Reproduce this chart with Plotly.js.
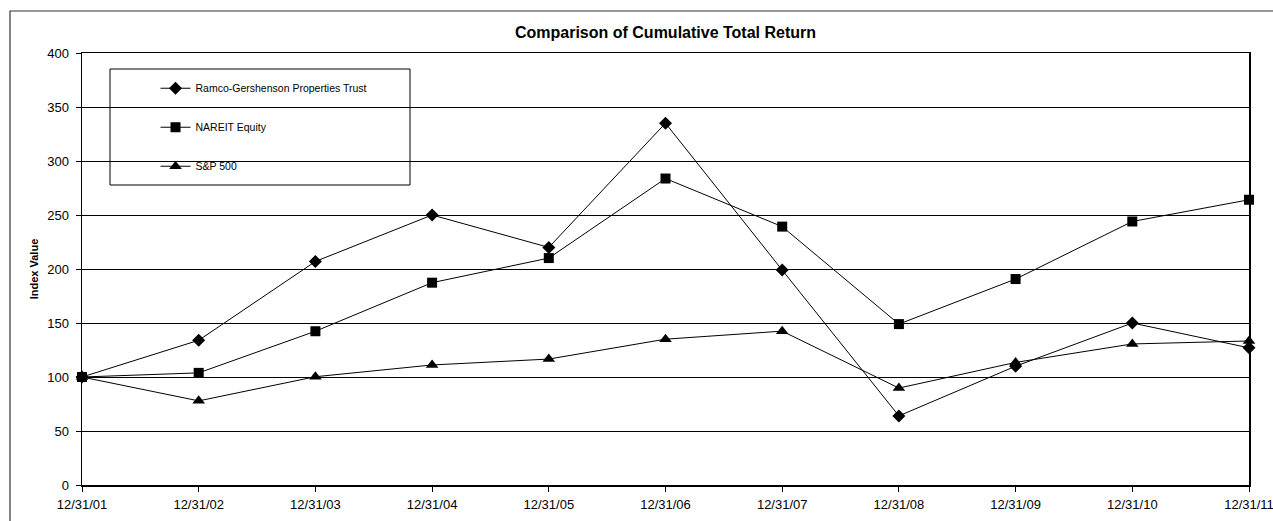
<!DOCTYPE html>
<html>
<head>
<meta charset="utf-8">
<script src="https://cdn.plot.ly/plotly-3.0.1.min.js"></script>
<style>
  html, body { margin: 0; padding: 0; background: #fff; }
  #chart { width: 1273px; height: 521px; }
</style>
</head>
<body>
<div id="chart"></div>
<script>
const categories = ["12/31/01", "12/31/02", "12/31/03", "12/31/04", "12/31/05", "12/31/06",
                    "12/31/07", "12/31/08", "12/31/09", "12/31/10", "12/31/11"];
const ramcoValues  = [100, 134, 207, 250, 220, 335, 199, 64, 110, 150, 127];
const nareitValues = [100, 103.82, 142.37, 187.33, 210.12, 283.78, 239.25, 148.99, 190.69, 243.99, 264.12];
const sp500Values  = [100, 77.90, 100.25, 111.15, 116.61, 135.03, 142.45, 89.75, 113.50, 130.60, 133.35];
const seriesNames  = ["Ramco-Gershenson Properties Trust", "NAREIT Equity", "S&P 500"];
const yTicks = [0, 50, 100, 150, 200, 250, 300, 350, 400];

const FONT = "Liberation Sans, Arial, sans-serif";

function mk(name, y, symbol, size, group) {
  return {
    type: "scatter", mode: "lines+markers", name: name, x: categories, y: y,
    legendgroup: group, cliponaxis: false,
    line: { color: "#000", width: 1 },
    marker: { symbol: symbol, size: size, color: "#000" }
  };
}

const data = [
  mk(seriesNames[0], ramcoValues, "diamond", 10, "a"),
  mk(seriesNames[1], nareitValues, "square", 10, "b"),
  mk(seriesNames[2], sp500Values, "triangle-up", 11, "c")
];

const layout = {
  width: 1273, height: 521,
  margin: { l: 82, r: 24, t: 53, b: 36 },
  paper_bgcolor: "#fff", plot_bgcolor: "#fff",
  font: { family: FONT, color: "#000", size: 12 },
  title: {
    text: "<b>Comparison of Cumulative Total Return</b>",
    font: { family: FONT, size: 16, color: "#000" },
    x: 0.5, xref: "paper", xanchor: "center",
    y: 1 - 32 / 521, yref: "container", yanchor: "middle"
  },
  showlegend: true,
  legend: {
    x: 0.063, xanchor: "left", y: 0.952, yanchor: "top",
    bgcolor: "rgba(0,0,0,0)", borderwidth: 0,
    font: { family: FONT, size: 10.5, color: "#000" },
    traceorder: "grouped", tracegroupgap: 20, itemsizing: "trace"
  },
  xaxis: {
    type: "category", range: [0, 10], fixedrange: true,
    showgrid: false, zeroline: false,
    showline: true, linecolor: "#000", linewidth: 1.5, mirror: true,
    ticks: "outside", ticklen: 5, tickcolor: "#000", tickwidth: 1,
    ticklabelstandoff: 2,
    tickfont: { family: FONT, size: 13, color: "#000" }
  },
  yaxis: {
    range: [0, 400], tickvals: yTicks, fixedrange: true,
    showgrid: true, gridcolor: "#000", gridwidth: 1, zeroline: false,
    showline: true, linecolor: "#000", linewidth: 1.5, mirror: true,
    ticks: "outside", ticklen: 5, tickcolor: "#000", tickwidth: 1,
    ticklabelstandoff: 4,
    tickfont: { family: FONT, size: 13, color: "#000" },
    title: { text: "<b>Index Value</b>", font: { family: FONT, size: 11, color: "#000" }, standoff: 6 }
  },
  shapes: [
    { type: "rect", xref: "paper", yref: "paper", layer: "between",
      x0: (110 - 82) / 1167, x1: (410 - 82) / 1167, y0: (485 - 185) / 432, y1: (485 - 69) / 432,
      fillcolor: "#fff", line: { color: "#000", width: 1 } },
    { type: "rect", xref: "paper", yref: "paper", layer: "above",
      x0: (10 - 82) / 1167, x1: 1.06, y0: -0.15, y1: (485 - 11) / 432,
      fillcolor: "rgba(0,0,0,0)", line: { color: "#333", width: 1.2 } }
  ]
};

Plotly.newPlot("chart", data, layout, { displayModeBar: false, staticPlot: true });
</script>
</body>
</html>
